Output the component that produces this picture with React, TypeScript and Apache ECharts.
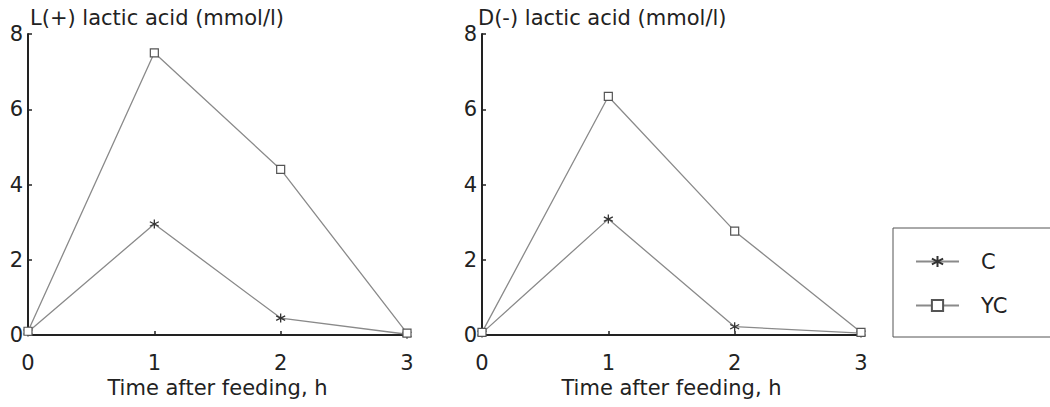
import React, { useEffect, useRef } from "react";
import * as echarts from "echarts";

const hours = [0, 1, 2, 3];
const leftTitle = "L(+) lactic acid (mmol/l)";
const rightTitle = "D(-) lactic acid (mmol/l)";
const xName = "Time after feeding, h";
const seriesNames = ["C", "YC"];
const lactL_C = [0.08, 2.95, 0.45, 0.02];
const lactL_YC = [0.1, 7.5, 4.4, 0.05];
const lactD_C = [0.05, 3.08, 0.22, 0.05];
const lactD_YC = [0.07, 6.34, 2.76, 0.07];

const FONT = "DejaVu Sans, Verdana, sans-serif";
const ASTERISK = "path://M5,0 L5,10 M0.7,2.5 L9.3,7.5 M0.7,7.5 L9.3,2.5";
const LINE = "#8a8a8a";
const INK = "#222";

export default function App() {
  const ref = useRef<HTMLDivElement>(null);
  useEffect(() => {
    const chart = echarts.init(ref.current!, null, { renderer: "svg" });
    const pair = (ys: number[]) => hours.map((h, i) => [h, ys[i]]);
    const xAxis = (gi: number) => ({
      type: "value",
      gridIndex: gi,
      min: 0,
      max: 3,
      interval: 1,
      name: xName,
      nameLocation: "middle",
      nameGap: 33,
      nameTextStyle: { fontFamily: FONT, fontSize: 21, color: INK },
      axisLine: { show: true, lineStyle: { color: INK, width: 2 } },
      axisTick: { show: true, inside: true, length: 4, lineStyle: { color: INK, width: 1.5 } },
      axisLabel: { margin: 17, fontFamily: FONT, fontSize: 21, color: INK },
      splitLine: { show: false },
    });
    const yAxis = (gi: number) => ({
      type: "value",
      gridIndex: gi,
      min: 0,
      max: 8,
      interval: 2,
      axisLine: { show: true, lineStyle: { color: INK, width: 2 } },
      axisTick: { show: true, inside: true, length: 4, lineStyle: { color: INK, width: 1.5 } },
      axisLabel: { margin: 5, fontFamily: FONT, fontSize: 21, color: INK },
      splitLine: { show: false },
    });
    const cSeries = (gi: number, ys: number[]) => ({
      name: seriesNames[0],
      type: "line",
      xAxisIndex: gi,
      yAxisIndex: gi,
      data: pair(ys),
      symbol: ASTERISK,
      symbolSize: 9,
      lineStyle: { color: LINE, width: 1.3 },
      itemStyle: { color: "#333", borderColor: "#333", borderWidth: 1.3 },
      z: 3,
    });
    const ycSeries = (gi: number, ys: number[]) => ({
      name: seriesNames[1],
      type: "line",
      xAxisIndex: gi,
      yAxisIndex: gi,
      data: pair(ys),
      symbol: "rect",
      symbolSize: 8,
      showAllSymbol: true,
      lineStyle: { color: LINE, width: 1.3 },
      itemStyle: { color: "#fff", borderColor: "#555", borderWidth: 1.2 },
      z: 3,
    });
    const titleStyle = { fontFamily: FONT, fontSize: 21, fontWeight: "normal", color: INK };
    chart.setOption({
      animation: false,
      backgroundColor: "#fff",
      title: [
        { text: leftTitle, left: 30, top: 7, padding: 0, textStyle: titleStyle },
        { text: rightTitle, left: 478, top: 7, padding: 0, textStyle: titleStyle },
      ],
      grid: [
        { left: 28, top: 34, width: 379, height: 301 },
        { left: 482, top: 34, width: 379, height: 301 },
      ],
      xAxis: [xAxis(0), xAxis(1)],
      yAxis: [yAxis(0), yAxis(1)],
      legend: {
        data: seriesNames,
        orient: "vertical",
        left: 893,
        top: 228,
        borderColor: "#555",
        borderWidth: 1,
        padding: [23, 120, 21, 22],
        itemWidth: 43,
        itemHeight: 14,
        itemGap: 23,
        textStyle: { fontFamily: FONT, fontSize: 21, color: INK, padding: [0, 0, 0, 17] },
      },
      series: [cSeries(0, lactL_C), ycSeries(0, lactL_YC), cSeries(1, lactD_C), ycSeries(1, lactD_YC)],
    });
    return () => chart.dispose();
  }, []);
  return <div ref={ref} style={{ position: "absolute", left: 0, top: 0, width: 1050, height: 407 }} />;
}
